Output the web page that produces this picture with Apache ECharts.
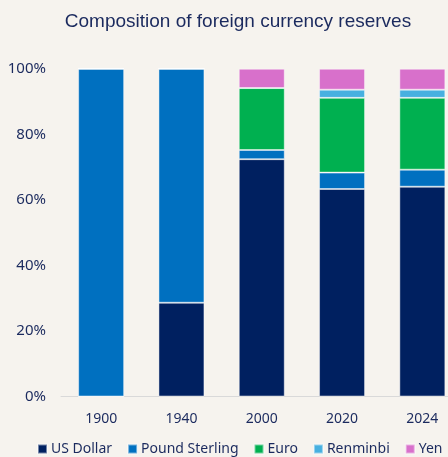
<!DOCTYPE html>
<html>
<head>
<meta charset="utf-8">
<script src="https://cdn.jsdelivr.net/npm/echarts@6/dist/echarts.min.js"></script>
<style>
  html, body { margin: 0; padding: 0; background: #F6F3EE; }
  #chart { width: 448px; height: 457px; }
</style>
</head>
<body>
<div id="chart"></div>
<script>
// Share of each currency in foreign reserves, percent
const years = ['1900', '1940', '2000', '2020', '2024'];
const usDollar      = [0,   28.6, 72.4, 63.3, 64.0];
const poundSterling = [100, 71.4, 2.8,  5.0,  5.2];
const euro          = [0,   0,    18.9, 22.8, 21.9];
const renminbi      = [0,   0,    0,    2.5,  2.5];
const yen           = [0,   0,    5.9,  6.4,  6.4];
const yTicks = [0, 20, 40, 60, 80, 100];

const textColor = '#1B2A5E';
const uiFont = '"Noto Sans", sans-serif';

function stackSeries(name, values, color) {
  return {
    name: name,
    type: 'bar',
    stack: 'total',
    barWidth: 46,
    data: values,
    itemStyle: { color: color, borderColor: 'rgba(255,255,255,0.45)', borderWidth: 1 },
    emphasis: { disabled: true }
  };
}

const chart = echarts.init(document.getElementById('chart'), null, { renderer: 'canvas' });
chart.setOption({
  backgroundColor: '#F6F3EE',
  animation: false,
  title: {
    text: 'Composition of foreign currency reserves',
    left: 233,
    textAlign: 'center',
    top: 7,
    textStyle: {
      color: textColor,
      fontFamily: '"Liberation Sans", Arial, sans-serif',
      fontSize: 19,
      fontWeight: 'normal'
    }
  },
  legend: {
    top: 442,
    left: 37,
    width: 420,
    padding: 0,
    itemWidth: 9,
    itemHeight: 9,
    itemGap: 15,
    icon: 'rect',
    textStyle: { color: textColor, fontFamily: uiFont, fontSize: 14, padding: [0, 0, 0, -1] },
    data: ['US Dollar', 'Pound Sterling', 'Euro', 'Renminbi', 'Yen']
  },
  grid: { left: 61, top: 68.7, width: 401.5, bottom: 60.5, outerBoundsMode: 'none', containLabel: false },
  xAxis: {
    type: 'category',
    data: years,
    axisTick: { show: false },
    axisLine: { lineStyle: { color: '#D9D9D9', width: 1 } },
    axisLabel: { color: textColor, fontFamily: uiFont, fontSize: 14, margin: 16 }
  },
  yAxis: {
    type: 'value',
    min: yTicks[0],
    max: yTicks[yTicks.length - 1],
    interval: 20,
    splitLine: { show: false },
    axisLine: { show: false },
    axisTick: { show: false },
    axisLabel: {
      color: textColor,
      fontFamily: uiFont,
      fontSize: 15,
      margin: 15,
      formatter: v => v + '%'
    }
  },
  series: [
    stackSeries('US Dollar', usDollar, '#002060'),
    stackSeries('Pound Sterling', poundSterling, '#0070C0'),
    stackSeries('Euro', euro, '#00B050'),
    stackSeries('Renminbi', renminbi, '#47B0E0'),
    stackSeries('Yen', yen, '#D870CB')
  ]
});
</script>
</body>
</html>
